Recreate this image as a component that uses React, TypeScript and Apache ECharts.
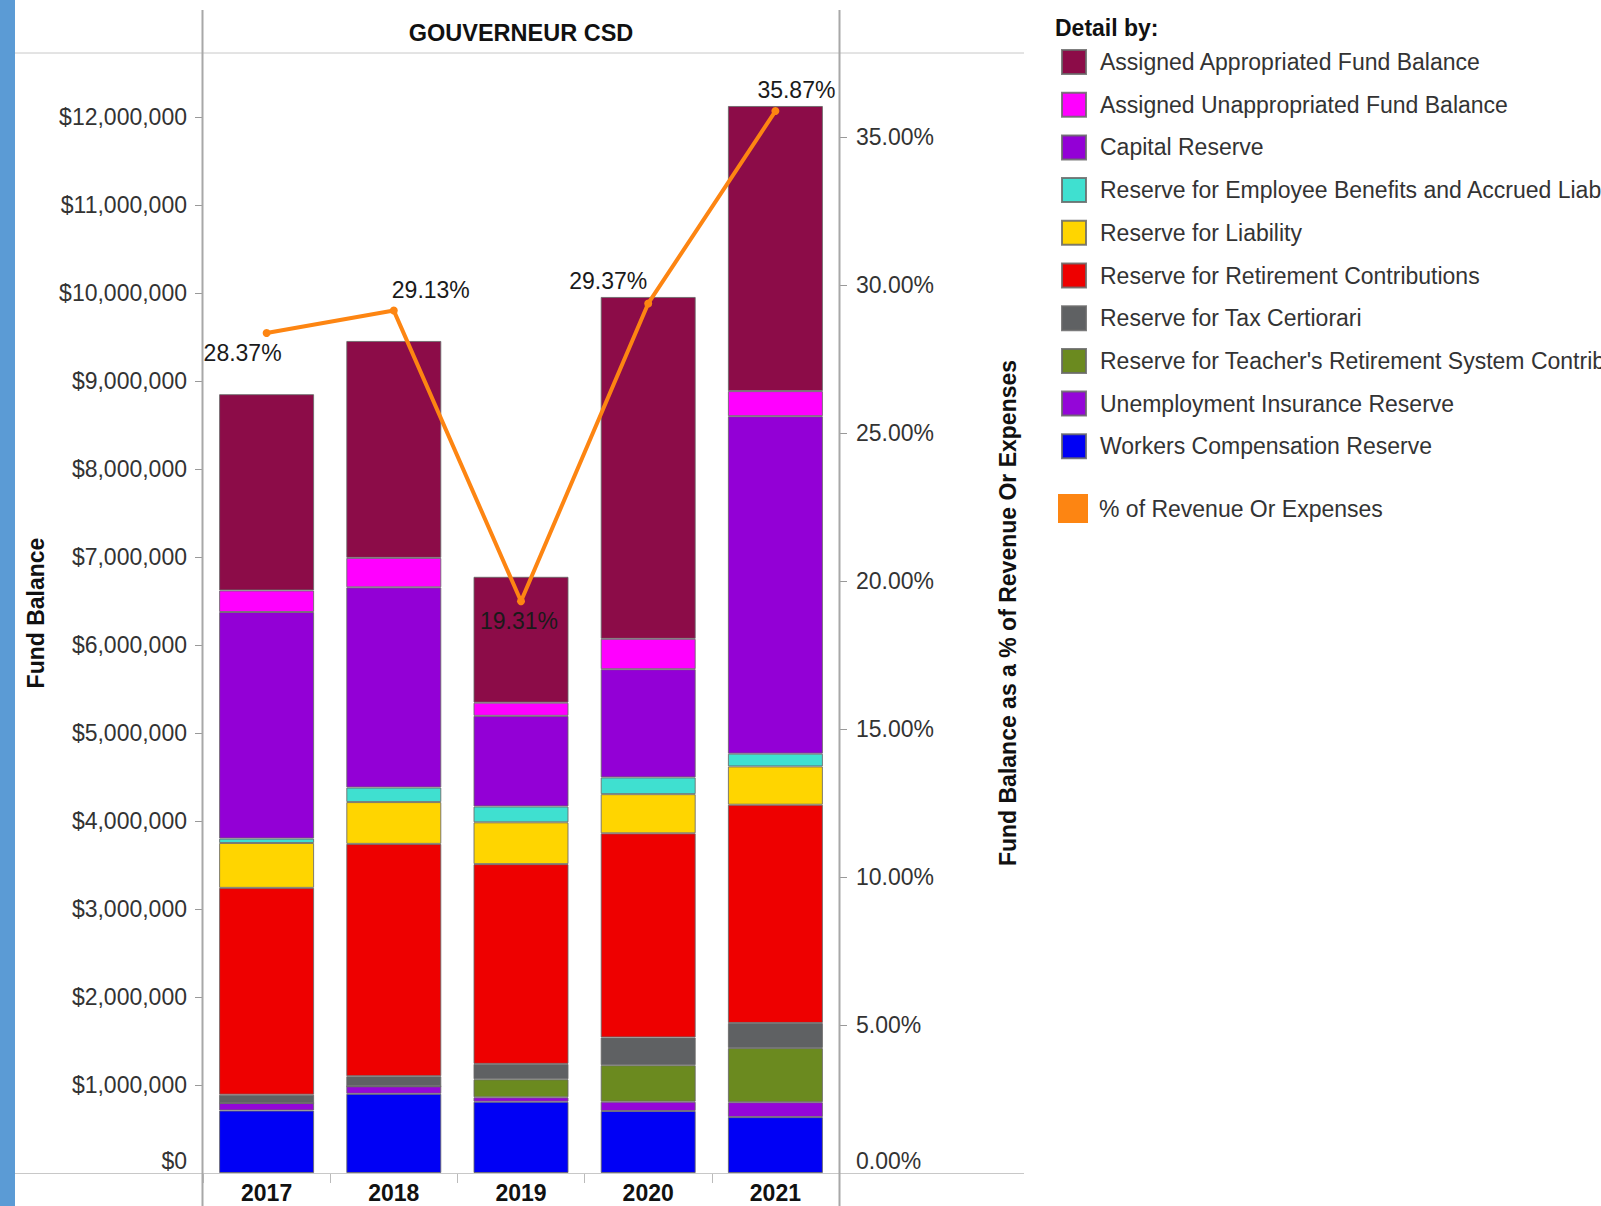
import React, { useEffect, useRef } from "react";
import * as echarts from "echarts";

const years = ["2017", "2018", "2019", "2020", "2021"];

const assignedAppropriated = [2230000, 2465000, 1430000, 3885000, 3240000];
const assignedUnappropriated = [245000, 335000, 150000, 345000, 285000];
const capitalReserve = [2575000, 2275000, 1030000, 1230000, 3835000];
const employeeBenefits = [50000, 165000, 180000, 190000, 145000];
const liability = [510000, 475000, 475000, 445000, 435000];
const retirement = [2350000, 2640000, 2270000, 2320000, 2480000];
const taxCertiorari = [95000, 115000, 175000, 315000, 285000];
const teachersRetirement = [0, 0, 205000, 415000, 615000];
const unemployment = [85000, 85000, 50000, 105000, 170000];
const workersComp = [710000, 900000, 810000, 705000, 635000];

const pctOfRevenue = [28.37, 29.13, 19.31, 29.37, 35.87];

const leftTicks = [0, 1000000, 2000000, 3000000, 4000000, 5000000, 6000000, 7000000, 8000000, 9000000, 10000000, 11000000, 12000000];
const rightTicks = [0, 5, 10, 15, 20, 25, 30, 35];

const FONT = "'Liberation Sans', Arial, sans-serif";
const ORANGE = "#fd8512";
const FS = 23;

// stacking order from bottom to top
const barDefs = [
  { name: "Workers Compensation Reserve", data: workersComp, color: "#0000f5" },
  { name: "Unemployment Insurance Reserve", data: unemployment, color: "#9406d8" },
  { name: "Reserve for Teacher's Retirement System Contributions", data: teachersRetirement, color: "#6b8a1f" },
  { name: "Reserve for Tax Certiorari", data: taxCertiorari, color: "#5f6163" },
  { name: "Reserve for Retirement Contributions", data: retirement, color: "#ee0000" },
  { name: "Reserve for Liability", data: liability, color: "#ffd500" },
  { name: "Reserve for Employee Benefits and Accrued Liabilities", data: employeeBenefits, color: "#3fe0d0" },
  { name: "Capital Reserve", data: capitalReserve, color: "#9300d6" },
  { name: "Assigned Unappropriated Fund Balance", data: assignedUnappropriated, color: "#ff00ff" },
  { name: "Assigned Appropriated Fund Balance", data: assignedAppropriated, color: "#8c0c48" },
];

const lineName = "% of Revenue Or Expenses";
const labelOffsets = [[-24, 20], [37, -21], [-2, 20], [-40, -22], [21, -21]];

const zeroRich = { z: { fontFamily: FONT, fontSize: FS, color: "#333", padding: [0, 0, 25, 0] } };

function buildOption() {
  const barSeries = barDefs.map((d) => ({
    name: d.name,
    type: "bar",
    stack: "fb",
    yAxisIndex: 0,
    barWidth: 95,
    data: d.data,
    itemStyle: { color: d.color, borderColor: "rgba(105,105,105,0.85)", borderWidth: 1 },
    emphasis: { disabled: true },
  }));

  const lineSeries = {
    name: lineName,
    type: "line",
    yAxisIndex: 1,
    z: 10,
    symbol: "circle",
    symbolSize: 8,
    lineStyle: { color: ORANGE, width: 4 },
    itemStyle: { color: ORANGE },
    emphasis: { disabled: true },
    data: pctOfRevenue.map((v, i) => ({
      value: v,
      label: {
        show: true,
        position: "inside",
        offset: labelOffsets[i],
        formatter: (p: any) => p.value.toFixed(2) + "%",
        fontFamily: FONT,
        fontSize: FS,
        color: "#1a1a1a",
      },
    })),
  };

  const legendBars = [...barDefs].reverse().map((d) => d.name);

  return {
    animation: false,
    backgroundColor: "#ffffff",
    textStyle: { fontFamily: FONT },
    grid: { left: 203, right: 762, top: 53, bottom: 33, containLabel: false },
    legend: [
      {
        data: legendBars,
        orient: "vertical",
        left: 1061,
        top: 49,
        padding: 0,
        itemWidth: 24,
        itemHeight: 24,
        itemGap: 16.7,
        icon: "rect",
        selectedMode: false,
        textStyle: { fontFamily: FONT, fontSize: FS, lineHeight: 24, color: "#333", padding: [0, 0, 0, 9] },
      },
      {
        data: [{ name: lineName, icon: "rect", itemStyle: { color: ORANGE, borderWidth: 0 } }],
        orient: "vertical",
        left: 1058,
        top: 494,
        padding: 0,
        itemWidth: 30,
        itemHeight: 29,
        selectedMode: false,
        textStyle: { fontFamily: FONT, fontSize: FS, lineHeight: 29, color: "#333", padding: [0, 0, 0, 6] },
      },
    ],
    xAxis: {
      type: "category",
      data: years,
      boundaryGap: true,
      axisLine: { show: false },
      axisTick: { show: true, length: 10, lineStyle: { color: "#bbbbbb" } },
      axisLabel: { fontFamily: FONT, fontSize: FS, fontWeight: "bold", color: "#111", margin: 8 },
      splitLine: { show: false },
    },
    yAxis: [
      {
        type: "value",
        min: 0,
        max: 12727000,
        interval: 1000000,
        name: "Fund Balance",
        nameLocation: "middle",
        nameGap: 156,
        nameRotate: 90,
        nameTextStyle: { fontFamily: FONT, fontSize: FS, fontWeight: "bold", color: "#111" },
        axisLine: { show: false },
        axisTick: { show: true, length: 8, customValues: leftTicks, lineStyle: { color: "#999" } },
        axisLabel: {
          customValues: leftTicks,
          fontFamily: FONT,
          fontSize: FS,
          color: "#333",
          margin: 16,
          rich: zeroRich,
          formatter: (v: number) => {
            const s = "$" + Math.round(v).toLocaleString("en-US");
            return v === 0 ? "{z|" + s + "}" : s;
          },
        },
        splitLine: { show: false },
      },
      {
        type: "value",
        min: 0,
        max: 37.83,
        interval: 5,
        position: "right",
        name: "Fund Balance as a % of Revenue Or Expenses",
        nameLocation: "middle",
        nameGap: 157,
        nameRotate: 90,
        nameTextStyle: { fontFamily: FONT, fontSize: FS, fontWeight: "bold", color: "#111" },
        axisLine: { show: false },
        axisTick: { show: true, length: 8, customValues: rightTicks, lineStyle: { color: "#999" } },
        axisLabel: {
          customValues: rightTicks,
          fontFamily: FONT,
          fontSize: FS,
          color: "#333",
          margin: 17,
          rich: zeroRich,
          formatter: (v: number) => {
            const s = v.toFixed(2) + "%";
            return v === 0 ? "{z|" + s + "}" : s;
          },
        },
        splitLine: { show: false },
      },
    ],
    graphic: [
      { type: "rect", left: 0, top: 0, shape: { width: 15, height: 1206 }, style: { fill: "#5b9bd5" }, z: 100 },
      { type: "line", shape: { x1: 15, y1: 53, x2: 1024, y2: 53 }, style: { stroke: "#c8c8c8", lineWidth: 1 }, z: 1 },
      { type: "line", shape: { x1: 15, y1: 1173.5, x2: 1024, y2: 1173.5 }, style: { stroke: "#c8c8c8", lineWidth: 1 }, z: 1 },
      { type: "line", shape: { x1: 202.5, y1: 10, x2: 202.5, y2: 1206 }, style: { stroke: "#a8a8a8", lineWidth: 2 }, z: 1 },
      { type: "line", shape: { x1: 839.5, y1: 10, x2: 839.5, y2: 1206 }, style: { stroke: "#a8a8a8", lineWidth: 2 }, z: 1 },
      {
        type: "text",
        x: 521,
        y: 33,
        style: { text: "GOUVERNEUR CSD", fontFamily: FONT, fontSize: 23.5, fontWeight: "bold", fill: "#111", align: "center", verticalAlign: "middle" },
      },
      {
        type: "text",
        x: 1055,
        y: 28,
        style: { text: "Detail by:", fontFamily: FONT, fontSize: FS, fontWeight: "bold", fill: "#111", align: "left", verticalAlign: "middle" },
      },
    ],
    series: [...barSeries, lineSeries],
  };
}

export default function App() {
  const ref = useRef<HTMLDivElement>(null);
  useEffect(() => {
    if (!ref.current) return;
    const chart = echarts.init(ref.current, null, { renderer: "svg" });
    chart.setOption(buildOption() as any);
    return () => chart.dispose();
  }, []);
  return (
    <div
      ref={ref}
      style={{ position: "fixed", left: 0, top: 0, width: 1601, height: 1206, background: "#ffffff", overflow: "hidden" }}
    />
  );
}
